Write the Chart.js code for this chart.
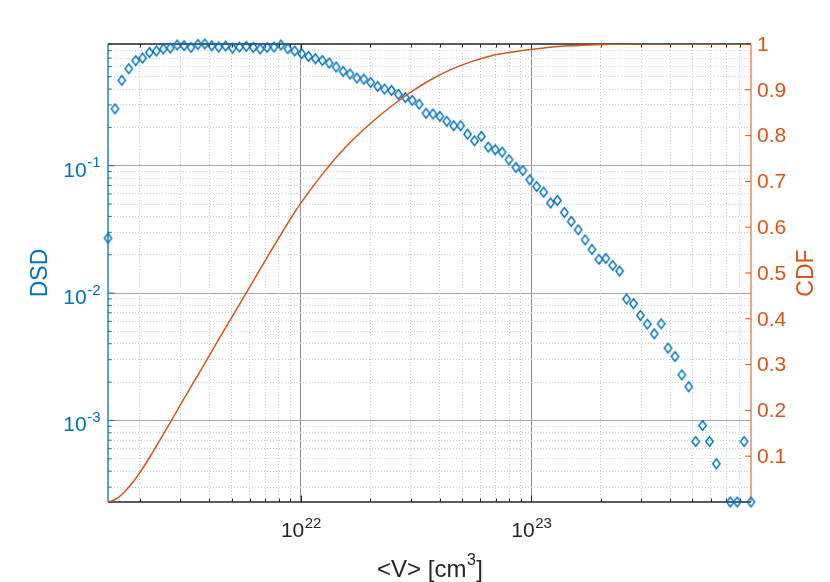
<!DOCTYPE html>
<html>
<head>
<meta charset="utf-8">
<script src="https://cdn.jsdelivr.net/npm/chart.js@4.4.1/dist/chart.umd.min.js"></script>
<style>
  html, body { margin: 0; padding: 0; background: #fff; }
  canvas { display: block; }
</style>
</head>
<body>
<canvas id="myChart" width="830" height="582"></canvas>
<script>
// bin centres <V> [cm^3]
const volumes = [
  1.455e21, 1.560e21, 1.671e21, 1.791e21, 1.919e21, 2.056e21, 2.203e21, 2.360e21, 2.529e21, 2.710e21,
  2.904e21, 3.112e21, 3.334e21, 3.573e21, 3.828e21, 4.102e21, 4.395e21, 4.710e21, 5.047e21, 5.408e21,
  5.794e21, 6.209e21, 6.653e21, 7.129e21, 7.638e21, 8.185e21, 8.770e21, 9.397e21, 1.007e22, 1.079e22,
  1.156e22, 1.239e22, 1.327e22, 1.422e22, 1.524e22, 1.633e22, 1.750e22, 1.875e22, 2.009e22, 2.153e22,
  2.307e22, 2.472e22, 2.649e22, 2.838e22, 3.041e22, 3.258e22, 3.491e22, 3.741e22, 4.009e22, 4.295e22,
  4.603e22, 4.932e22, 5.284e22, 5.662e22, 6.067e22, 6.501e22, 6.966e22, 7.464e22, 7.998e22, 8.570e22,
  9.183e22, 9.840e22, 1.054e23, 1.130e23, 1.211e23, 1.297e23, 1.390e23, 1.489e23, 1.596e23, 1.710e23,
  1.832e23, 1.963e23, 2.104e23, 2.254e23, 2.415e23, 2.588e23, 2.773e23, 2.972e23, 3.184e23, 3.412e23,
  3.656e23, 3.917e23, 4.198e23, 4.498e23, 4.819e23, 5.164e23, 5.534e23, 5.929e23, 6.353e23, 6.808e23,
  7.295e23, 7.816e23, 8.375e23, 8.974e23
];

// DSD per bin (null = empty bin)
const dsdValues = [
  0.0270, 0.280, 0.468, 0.578, 0.668, 0.701, 0.776, 0.796, 0.825, 0.840,
  0.887, 0.876, 0.849, 0.896, 0.903, 0.876, 0.855, 0.871, 0.840, 0.855,
  0.865, 0.849, 0.825, 0.849, 0.855, 0.887, 0.829, 0.796, 0.758, 0.721,
  0.692, 0.671, 0.640, 0.596, 0.550, 0.525, 0.488, 0.479, 0.451, 0.420,
  0.400, 0.390, 0.363, 0.343, 0.326, 0.304, 0.258, 0.255, 0.244, 0.223,
  0.206, 0.206, 0.177, 0.157, 0.170, 0.140, 0.1335, 0.128, 0.1115, 0.0970,
  0.0919, 0.0776, 0.0688, 0.0621, 0.0510, 0.0534, 0.0430, 0.0365, 0.0314, 0.0262,
  0.0220, 0.0184, 0.0187, 0.0165, 0.0149, 0.00898, 0.00825, 0.00668, 0.00571, 0.00479,
  0.00574, 0.00370, 0.00318, 0.00228, 0.00184, 0.000684, 0.000913, 0.000684, 0.000457, null,
  0.000229, 0.000229, 0.000684, 0.000229
];

// CDF curve
const cdfVolumes = [
  1.455e21, 1.569e21, 1.684e21, 1.824e21, 2.016e21, 2.227e21, 2.461e21, 2.720e21, 3.006e21, 3.670e21,
  4.482e21, 5.475e21, 6.686e21, 7.389e21, 8.166e21, 9.024e21, 9.970e21, 1.102e22, 1.218e22, 1.346e22,
  1.487e22, 1.643e22, 1.816e22, 2.007e22, 2.451e22, 2.994e22, 3.656e22, 4.465e22, 5.453e22, 6.660e22,
  8.134e22, 9.931e22, 1.213e23, 1.481e23, 1.809e23, 2.209e23, 2.982e23, 8.974e23
];
const cdfValues = [
  0.000, 0.006, 0.018, 0.037, 0.067, 0.101, 0.138, 0.175, 0.213, 0.287,
  0.362, 0.436, 0.510, 0.547, 0.583, 0.619, 0.652, 0.682, 0.711, 0.738,
  0.763, 0.786, 0.807, 0.827, 0.863, 0.895, 0.922, 0.944, 0.961, 0.974,
  0.982, 0.988, 0.993, 0.996, 0.998, 0.9996, 1.000, 1.000
];

// ticks
const xMajorTicks = [1e22, 1e23];
const dsdMajorTicks = [1e-3, 1e-2, 1e-1];
const cdfTicks = [0.1, 0.2, 0.3, 0.4, 0.5, 0.6, 0.7, 0.8, 0.9, 1];

const BLUE = '#0072BD';
const ORANGE = '#D95319';
const DARK = '#262626';
const FONT = '"Liberation Sans", Arial, Helvetica, sans-serif';

const xMin = volumes[0];
const xMax = volumes[volumes.length - 1];
const dsdKnown = dsdValues.filter(v => v !== null);
const yMin = Math.min(...dsdKnown);
const yMax = Math.max(...dsdKnown);

// major + minor (2..9 x 10^n) tick objects for a log axis
function logTicks(min, max) {
  const out = [];
  for (let e = Math.floor(Math.log10(min)); e <= Math.ceil(Math.log10(max)); e++) {
    for (let m = 1; m <= 9; m++) {
      const v = m * Math.pow(10, e);
      if (v > min && v < max) out.push({ value: v, major: m === 1 });
    }
  }
  return out;
}

// hollow diamond, a bit taller than wide (MATLAB 'd' marker)
function diamondMarker(w, h, color, lw) {
  const c = document.createElement('canvas');
  c.width = Math.ceil(w + 2 * lw + 2);
  c.height = Math.ceil(h + 2 * lw + 2);
  const g = c.getContext('2d');
  const cx = c.width / 2, cy = c.height / 2;
  g.strokeStyle = color;
  g.lineWidth = lw;
  g.beginPath();
  g.moveTo(cx, cy - h / 2);
  g.lineTo(cx + w / 2, cy);
  g.lineTo(cx, cy + h / 2);
  g.lineTo(cx - w / 2, cy);
  g.closePath();
  g.stroke();
  return c;
}

const dsdPoints = [];
volumes.forEach((v, i) => {
  if (dsdValues[i] !== null) dsdPoints.push({ x: v, y: dsdValues[i] });
});
const cdfPoints = cdfVolumes.map((v, i) => ({ x: v, y: cdfValues[i] }));

const isMajor = c => c.tick && c.tick.major;

// MATLAB style frame, inward ticks and text
const matlabAxes = {
  id: 'matlabAxes',
  beforeDatasetsDraw(chart) {
    const { ctx, chartArea: a, scales } = chart;
    ctx.save();
    ctx.lineWidth = 1;
    // x ticks bottom and top
    ctx.strokeStyle = DARK;
    scales.x.ticks.forEach(t => {
      const px = Math.round(scales.x.getPixelForValue(t.value)) + 0.5;
      const len = t.major ? 6.5 : 3.5;
      ctx.beginPath();
      ctx.moveTo(px, a.bottom); ctx.lineTo(px, a.bottom - len);
      ctx.moveTo(px, a.top); ctx.lineTo(px, a.top + len);
      ctx.stroke();
    });
    // left ticks
    ctx.strokeStyle = BLUE;
    scales.y.ticks.forEach(t => {
      const py = scales.y.getPixelForValue(t.value);
      const len = t.major ? 6.5 : 3.5;
      ctx.beginPath();
      ctx.moveTo(a.left, py); ctx.lineTo(a.left + len, py);
      ctx.stroke();
    });
    // right ticks
    ctx.strokeStyle = ORANGE;
    scales.y2.ticks.forEach(t => {
      const py = scales.y2.getPixelForValue(t.value);
      ctx.beginPath();
      ctx.moveTo(a.right, py); ctx.lineTo(a.right - 6, py);
      ctx.stroke();
    });
    // frame
    ctx.lineWidth = 1.3;
    ctx.strokeStyle = DARK;
    ctx.beginPath();
    ctx.moveTo(a.left, a.top); ctx.lineTo(a.right, a.top);
    ctx.moveTo(a.left, a.bottom); ctx.lineTo(a.right, a.bottom);
    ctx.stroke();
    ctx.strokeStyle = BLUE;
    ctx.beginPath();
    ctx.moveTo(a.left, a.top); ctx.lineTo(a.left, a.bottom);
    ctx.stroke();
    ctx.strokeStyle = ORANGE;
    ctx.lineWidth = 1;
    ctx.beginPath();
    ctx.moveTo(a.right, a.top); ctx.lineTo(a.right, a.bottom);
    ctx.stroke();
    ctx.restore();
  },
  afterDraw(chart) {
    const { ctx, chartArea: a, scales } = chart;
    ctx.save();
    ctx.textBaseline = 'alphabetic';
    ctx.textAlign = 'left';

    const drawPow = (exp, x, y, align) => {
      ctx.font = '21px ' + FONT;
      const wb = ctx.measureText('10').width;
      ctx.font = '15px ' + FONT;
      const we = ctx.measureText(exp).width;
      let x0 = x;
      if (align === 'center') x0 = x - (wb + we) / 2;
      if (align === 'right') x0 = x - (wb + we);
      ctx.font = '21px ' + FONT;
      ctx.fillText('10', x0, y);
      ctx.font = '15px ' + FONT;
      ctx.fillText(exp, x0 + wb + 0.5, y - 9.5);
    };

    // x tick labels
    ctx.fillStyle = DARK;
    xMajorTicks.forEach(v => {
      drawPow(String(Math.round(Math.log10(v))), scales.x.getPixelForValue(v), a.bottom + 35, 'center');
    });
    // left tick labels
    ctx.fillStyle = BLUE;
    dsdMajorTicks.forEach(v => {
      drawPow(String(Math.round(Math.log10(v))), a.left - 8, scales.y.getPixelForValue(v) + 11, 'right');
    });
    // right tick labels
    ctx.fillStyle = ORANGE;
    ctx.font = '21px ' + FONT;
    ctx.textBaseline = 'middle';
    cdfTicks.forEach(v => {
      ctx.fillText(String(v), a.right + 6, scales.y2.getPixelForValue(v) + 1);
    });

    // axis titles
    ctx.textAlign = 'center';
    ctx.font = '23px ' + FONT;
    ctx.fillStyle = BLUE;
    ctx.save();
    ctx.translate(41, (a.top + a.bottom) / 2);
    ctx.rotate(-Math.PI / 2);
    ctx.fillText('DSD', 0, 0);
    ctx.restore();
    ctx.fillStyle = ORANGE;
    ctx.save();
    ctx.translate(807, (a.top + a.bottom) / 2);
    ctx.rotate(-Math.PI / 2);
    ctx.fillText('CDF', 0, 0);
    ctx.restore();

    // x title with superscript
    ctx.fillStyle = DARK;
    ctx.textAlign = 'left';
    ctx.textBaseline = 'alphabetic';
    ctx.font = '24px ' + FONT;
    const t1 = '<V> [cm';
    const w1 = ctx.measureText(t1).width;
    const w3 = ctx.measureText(']').width;
    ctx.font = '16px ' + FONT;
    const w2 = ctx.measureText('3').width;
    const cx = (a.left + a.right) / 2;
    const x0 = cx - (w1 + w2 + w3) / 2;
    ctx.font = '24px ' + FONT;
    ctx.fillText(t1, x0, 577);
    ctx.fillText(']', x0 + w1 + w2 + 1, 577);
    ctx.font = '16px ' + FONT;
    ctx.fillText('3', x0 + w1 + 0.5, 565);
    ctx.restore();
  }
};

const ctx = document.getElementById('myChart').getContext('2d');

const myChart = new Chart(ctx, {
  type: 'scatter',
  data: {
    datasets: [
      {
        type: 'line',
        label: 'CDF',
        data: cdfPoints,
        xAxisID: 'x',
        yAxisID: 'y2',
        borderColor: ORANGE,
        borderWidth: 1.5,
        pointRadius: 0,
        fill: false,
        cubicInterpolationMode: 'monotone'
      },
      {
        type: 'scatter',
        label: 'DSD',
        data: dsdPoints,
        xAxisID: 'x',
        yAxisID: 'y',
        pointStyle: diamondMarker(7.4, 9.6, BLUE, 1.4),
        pointRadius: 5,
        borderColor: BLUE,
        backgroundColor: 'rgba(0,0,0,0)',
        clip: false
      }
    ]
  },
  options: {
    responsive: false,
    animation: false,
    layout: { padding: { top: 44, left: 0, right: 0, bottom: 0 } },
    plugins: { legend: { display: false }, tooltip: { enabled: false } },
    scales: {
      x: {
        type: 'logarithmic',
        position: 'bottom',
        min: xMin,
        max: xMax,
        afterBuildTicks: s => { s.ticks = logTicks(xMin, xMax); },
        afterFit: s => { s.height = 80; },
        ticks: { display: false },
        border: { display: false, dash: c => (isMajor(c) ? [] : [1, 2]) },
        grid: {
          drawTicks: false,
          lineWidth: 1,
          color: c => (isMajor(c) ? '#8e8e8e' : '#c8c8c8')
        }
      },
      y: {
        type: 'logarithmic',
        position: 'left',
        min: yMin,
        max: yMax,
        afterBuildTicks: s => { s.ticks = logTicks(yMin, yMax); },
        afterFit: s => { s.width = 108; },
        ticks: { display: false },
        border: { display: false, dash: c => (isMajor(c) ? [] : [1, 2]) },
        grid: {
          drawTicks: false,
          lineWidth: 1,
          color: c => (isMajor(c) ? '#a8a8a8' : '#b9d0e4')
        }
      },
      y2: {
        type: 'linear',
        position: 'right',
        min: 0,
        max: 1,
        afterBuildTicks: s => { s.ticks = cdfTicks.map(v => ({ value: v })); },
        afterFit: s => { s.width = 79; },
        ticks: { display: false },
        border: { display: false },
        grid: { display: false, drawTicks: false }
      }
    }
  },
  plugins: [matlabAxes]
});
</script>
</body>
</html>
